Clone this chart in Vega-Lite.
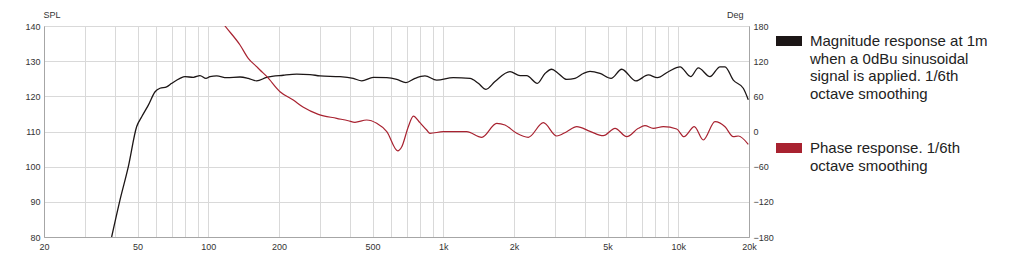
{
  "$schema": "https://vega.github.io/schema/vega-lite/v6.json",
  "autosize": "none",
  "width": 705,
  "height": 211,
  "padding": {"left": 44, "top": 26, "right": 275, "bottom": 21},
  "background": "white",
  "config": {
    "font": "Liberation Sans",
    "view": {"stroke": "#a6a6a6", "strokeWidth": 1},
    "axis": {
      "labelFont": "Liberation Sans",
      "labelFontSize": 9,
      "labelColor": "#333333",
      "titleFont": "Liberation Sans",
      "titleFontSize": 9,
      "titleFontWeight": "normal",
      "titleColor": "#333333",
      "domainColor": "#a6a6a6",
      "gridColor": "#d9d9d9",
      "gridWidth": 1,
      "ticks": false,
      "labelPadding": 4
    }
  },
  "datasets": {
    "mag": [
      {"freq": 38.8, "val": 80, "series": "mag"},
      {"freq": 42.1, "val": 90.5, "series": "mag"},
      {"freq": 45.7, "val": 100, "series": "mag"},
      {"freq": 49.6, "val": 111.4, "series": "mag"},
      {"freq": 52.1, "val": 114.2, "series": "mag"},
      {"freq": 55.6, "val": 117.5, "series": "mag"},
      {"freq": 59.4, "val": 121.3, "series": "mag"},
      {"freq": 62.3, "val": 122.3, "series": "mag"},
      {"freq": 66.5, "val": 122.7, "series": "mag"},
      {"freq": 69.9, "val": 123.7, "series": "mag"},
      {"freq": 75.8, "val": 125.1, "series": "mag"},
      {"freq": 79.6, "val": 125.6, "series": "mag"},
      {"freq": 86.4, "val": 125.4, "series": "mag"},
      {"freq": 92.2, "val": 125.9, "series": "mag"},
      {"freq": 97.8, "val": 125.1, "series": "mag"},
      {"freq": 101.7, "val": 125.6, "series": "mag"},
      {"freq": 108.6, "val": 125.8, "series": "mag"},
      {"freq": 119.8, "val": 125.3, "series": "mag"},
      {"freq": 136.5, "val": 125.5, "series": "mag"},
      {"freq": 148, "val": 125.1, "series": "mag"},
      {"freq": 160.7, "val": 124.4, "series": "mag"},
      {"freq": 177.3, "val": 125.4, "series": "mag"},
      {"freq": 208.6, "val": 126.0, "series": "mag"},
      {"freq": 237.9, "val": 126.3, "series": "mag"},
      {"freq": 271, "val": 126.2, "series": "mag"},
      {"freq": 299, "val": 125.8, "series": "mag"},
      {"freq": 363.6, "val": 125.6, "series": "mag"},
      {"freq": 414, "val": 125.1, "series": "mag"},
      {"freq": 450, "val": 124.4, "series": "mag"},
      {"freq": 504, "val": 125.4, "series": "mag"},
      {"freq": 575, "val": 125.3, "series": "mag"},
      {"freq": 634, "val": 124.8, "series": "mag"},
      {"freq": 694, "val": 123.9, "series": "mag"},
      {"freq": 758, "val": 125.1, "series": "mag"},
      {"freq": 836, "val": 125.8, "series": "mag"},
      {"freq": 938, "val": 124.6, "series": "mag"},
      {"freq": 1103, "val": 125.3, "series": "mag"},
      {"freq": 1300, "val": 125.1, "series": "mag"},
      {"freq": 1410, "val": 123.7, "series": "mag"},
      {"freq": 1520, "val": 122.0, "series": "mag"},
      {"freq": 1660, "val": 124.2, "series": "mag"},
      {"freq": 1923, "val": 127.0, "series": "mag"},
      {"freq": 2122, "val": 125.9, "series": "mag"},
      {"freq": 2265, "val": 125.9, "series": "mag"},
      {"freq": 2514, "val": 123.7, "series": "mag"},
      {"freq": 2710, "val": 126.5, "series": "mag"},
      {"freq": 2894, "val": 127.7, "series": "mag"},
      {"freq": 3087, "val": 126.5, "series": "mag"},
      {"freq": 3352, "val": 124.8, "series": "mag"},
      {"freq": 3636, "val": 125.1, "series": "mag"},
      {"freq": 3944, "val": 126.5, "series": "mag"},
      {"freq": 4212, "val": 127.1, "series": "mag"},
      {"freq": 4646, "val": 126.5, "series": "mag"},
      {"freq": 5176, "val": 125.1, "series": "mag"},
      {"freq": 5746, "val": 127.7, "series": "mag"},
      {"freq": 6608, "val": 124.4, "series": "mag"},
      {"freq": 7456, "val": 126.1, "series": "mag"},
      {"freq": 8145, "val": 125.3, "series": "mag"},
      {"freq": 9072, "val": 127.0, "series": "mag"},
      {"freq": 10175, "val": 128.4, "series": "mag"},
      {"freq": 11296, "val": 125.6, "series": "mag"},
      {"freq": 12170, "val": 128.1, "series": "mag"},
      {"freq": 13646, "val": 125.6, "series": "mag"},
      {"freq": 15056, "val": 128.4, "series": "mag"},
      {"freq": 15813, "val": 128.4, "series": "mag"},
      {"freq": 17150, "val": 124.6, "series": "mag"},
      {"freq": 18912, "val": 122.3, "series": "mag"},
      {"freq": 19860, "val": 119.0, "series": "mag"}
    ],
    "phase": [
      {"freq": 112.2, "val": 191, "series": "phase"},
      {"freq": 117.8, "val": 180, "series": "phase"},
      {"freq": 136.5, "val": 147.6, "series": "phase"},
      {"freq": 148, "val": 124.9, "series": "phase"},
      {"freq": 160.7, "val": 110.6, "series": "phase"},
      {"freq": 166, "val": 105, "series": "phase"},
      {"freq": 177.3, "val": 94, "series": "phase"},
      {"freq": 202, "val": 67.9, "series": "phase"},
      {"freq": 230, "val": 53.7, "series": "phase"},
      {"freq": 254, "val": 41.3, "series": "phase"},
      {"freq": 294, "val": 29.3, "series": "phase"},
      {"freq": 352, "val": 22.5, "series": "phase"},
      {"freq": 394, "val": 18.4, "series": "phase"},
      {"freq": 421, "val": 15.7, "series": "phase"},
      {"freq": 472, "val": 19.6, "series": "phase"},
      {"freq": 521, "val": 14.0, "series": "phase"},
      {"freq": 575, "val": -0.3, "series": "phase"},
      {"freq": 640, "val": -33, "series": "phase"},
      {"freq": 666, "val": -26, "series": "phase"},
      {"freq": 710, "val": 8.2, "series": "phase"},
      {"freq": 746, "val": 26.4, "series": "phase"},
      {"freq": 796, "val": 15, "series": "phase"},
      {"freq": 850, "val": 2.5, "series": "phase"},
      {"freq": 878, "val": -3.1, "series": "phase"},
      {"freq": 1000, "val": -0.3, "series": "phase"},
      {"freq": 1258, "val": -0.3, "series": "phase"},
      {"freq": 1458, "val": -9.9, "series": "phase"},
      {"freq": 1688, "val": 14, "series": "phase"},
      {"freq": 1831, "val": 11.1, "series": "phase"},
      {"freq": 2054, "val": -3.1, "series": "phase"},
      {"freq": 2301, "val": -9.9, "series": "phase"},
      {"freq": 2666, "val": 15, "series": "phase"},
      {"freq": 3039, "val": -7.7, "series": "phase"},
      {"freq": 3352, "val": -0.3, "series": "phase"},
      {"freq": 3698, "val": 8.2, "series": "phase"},
      {"freq": 4212, "val": 0.3, "series": "phase"},
      {"freq": 4797, "val": -7.2, "series": "phase"},
      {"freq": 5382, "val": 5.4, "series": "phase"},
      {"freq": 6036, "val": -8.9, "series": "phase"},
      {"freq": 6761, "val": 5.4, "series": "phase"},
      {"freq": 7216, "val": 9.9, "series": "phase"},
      {"freq": 7830, "val": 5.4, "series": "phase"},
      {"freq": 8636, "val": 8.2, "series": "phase"},
      {"freq": 9848, "val": 4.3, "series": "phase"},
      {"freq": 10579, "val": -8.9, "series": "phase"},
      {"freq": 11702, "val": 8.2, "series": "phase"},
      {"freq": 12782, "val": -14.5, "series": "phase"},
      {"freq": 14332, "val": 16.7, "series": "phase"},
      {"freq": 15813, "val": 8.2, "series": "phase"},
      {"freq": 17150, "val": -8.9, "series": "phase"},
      {"freq": 18010, "val": -7.7, "series": "phase"},
      {"freq": 19860, "val": -21.9, "series": "phase"}
    ]
  },
  "layer": [
    {
      "data": {"name": "mag"},
      "mark": {"type": "line", "strokeWidth": 1.3, "interpolate": "monotone", "clip": true},
      "encoding": {
        "x": {
          "field": "freq", "type": "quantitative",
          "scale": {"type": "log", "domain": [20, 20000], "nice": false},
          "axis": {
            "title": null,
            "grid": true,
            "values": [20,30,40,50,60,70,80,90,100,200,300,400,500,600,700,800,900,1000,2000,3000,4000,5000,6000,7000,8000,9000,10000,20000],
            "labelExpr": "indexof([20,50,100,200,500,1000,2000,5000,10000,20000], datum.value) >= 0 ? (datum.value >= 1000 ? (datum.value / 1000) + 'k' : '' + datum.value) : ''",
            "labelPadding": 5,
            "labelFlush": false,
            "labelOverlap": false
          }
        },
        "y": {
          "field": "val", "type": "quantitative",
          "scale": {"domain": [80, 140], "nice": false, "zero": false},
          "axis": {
            "title": "SPL", "values": [80, 90, 100, 110, 120, 130, 140],
            "titleAngle": 0, "titleAlign": "left", "titleBaseline": "middle",
            "titleX": -1, "titleY": -12, "labelFlush": false
          }
        },
        "color": {
          "field": "series", "type": "nominal",
          "scale": {"domain": ["mag", "phase"], "range": ["#1c1616", "#a82230"]},
          "legend": {
            "orient": "none",
            "legendX": 727,
            "legendY": -3,
            "title": null,
            "symbolType": "stroke",
            "symbolSize": 676,
            "symbolStrokeWidth": 10,
            "labelFont": "Liberation Sans",
            "labelFontSize": 15,
            "labelColor": "#222222",
            "labelLimit": 300,
            "labelOffset": 3,
            "labelBaseline": "top",
            "rowPadding": 25,
            "labelExpr": "datum.value == 'mag' ? ['Magnitude response at 1m', 'when a 0dBu sinusoidal', 'signal is applied. 1/6th', 'octave smoothing'] : ['Phase response. 1/6th', 'octave smoothing']",
            "encode": {
              "labels": {"update": {"lineHeight": {"value": 17.7}, "dy": {"value": -7}}},
              "symbols": {"update": {"stroke": {"signal": "datum.value == 'mag' ? '#231815' : '#b50f1c'"}}}
            }
          }
        }
      }
    },
    {
      "data": {"name": "phase"},
      "mark": {"type": "line", "strokeWidth": 1.2, "interpolate": "monotone", "clip": true},
      "encoding": {
        "x": {"field": "freq", "type": "quantitative", "scale": {"type": "log", "domain": [20, 20000], "nice": false}},
        "y": {
          "field": "val", "type": "quantitative",
          "scale": {"domain": [-180, 180], "nice": false, "zero": false},
          "axis": {
            "title": "Deg", "orient": "right", "values": [-180, -120, -60, 0, 60, 120, 180],
            "grid": false, "titleAngle": 0, "titleAlign": "right", "titleBaseline": "middle",
            "titleX": -6, "titleY": -12, "labelFlush": false
          }
        },
        "color": {"field": "series", "type": "nominal"}
      }
    }
  ],
  "resolve": {"scale": {"y": "independent"}}
}
